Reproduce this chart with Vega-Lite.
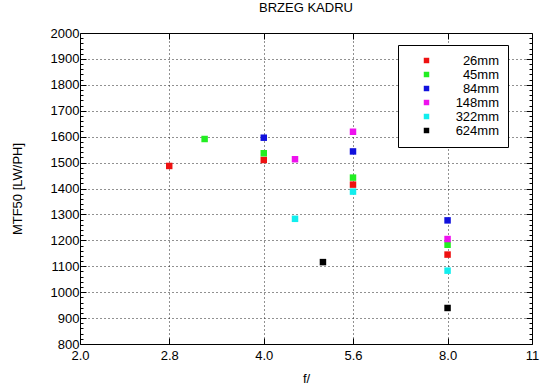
{
  "$schema": "https://vega.github.io/schema/vega-lite/v6.json",
  "width": 452,
  "height": 311,
  "autosize": "none",
  "padding": {"left": 80, "top": 33, "right": 18, "bottom": 45},
  "background": "white",
  "config": {
    "font": "Liberation Sans",
    "view": {"stroke": "#000000", "strokeWidth": 1},
    "axis": {"labelFont": "Liberation Sans", "titleFont": "Liberation Sans", "labelFontSize": 13, "titleFontSize": 13, "titleFontWeight": "normal", "labelColor": "#000", "titleColor": "#000", "domainColor": "#000", "tickColor": "#000"}
  },
  "title": {"text": "BRZEG KADRU", "fontSize": 13, "fontWeight": "normal", "font": "Liberation Sans", "offset": 12, "color": "#000"},
  "data": {"values": [
    {"f": 2.8, "mtf": 1487, "lens": "26mm"},
    {"f": 4.0, "mtf": 1510, "lens": "26mm"},
    {"f": 5.6, "mtf": 1415, "lens": "26mm"},
    {"f": 8.0, "mtf": 1145, "lens": "26mm"},
    {"f": 3.2, "mtf": 1591, "lens": "45mm"},
    {"f": 4.0, "mtf": 1536, "lens": "45mm"},
    {"f": 5.6, "mtf": 1442, "lens": "45mm"},
    {"f": 8.0, "mtf": 1183, "lens": "45mm"},
    {"f": 4.0, "mtf": 1596, "lens": "84mm"},
    {"f": 5.6, "mtf": 1543, "lens": "84mm"},
    {"f": 8.0, "mtf": 1277, "lens": "84mm"},
    {"f": 4.5, "mtf": 1513, "lens": "148mm"},
    {"f": 5.6, "mtf": 1619, "lens": "148mm"},
    {"f": 8.0, "mtf": 1205, "lens": "148mm"},
    {"f": 4.5, "mtf": 1283, "lens": "322mm"},
    {"f": 5.6, "mtf": 1388, "lens": "322mm"},
    {"f": 8.0, "mtf": 1083, "lens": "322mm"},
    {"f": 5.0, "mtf": 1116, "lens": "624mm"},
    {"f": 8.0, "mtf": 939, "lens": "624mm"}
  ]},
  "resolve": {"axis": {"x": "independent", "y": "independent"}},
  "layer": [
    {
      "mark": {"type": "square", "size": 42, "opacity": 1},
      "encoding": {
        "x": {"field": "f", "type": "quantitative",
          "scale": {"type": "log", "domain": [2, 11], "nice": false, "zero": false},
          "axis": {"orient": "bottom", "title": "f/", "values": [2, 2.8, 4, 5.6, 8, 11],
            "labelExpr": "datum.value == 11 ? '11' : format(datum.value, '.1f')",
            "grid": true, "gridDash": [1, 3], "gridColor": "#222", "gridOpacity": {"condition": {"test": "datum.value == 2 || datum.value == 11", "value": 0}, "value": 1},
            "tickSize": -6, "labelPadding": 11, "titlePadding": 10, "domain": false, "labelFlush": false}},
        "y": {"field": "mtf", "type": "quantitative",
          "scale": {"domain": [800, 2000], "nice": false, "zero": false},
          "axis": {"orient": "left", "title": "MTF50 [LW/PH]",
            "values": [800,820,840,860,880,900,920,940,960,980,1000,1020,1040,1060,1080,1100,1120,1140,1160,1180,1200,1220,1240,1260,1280,1300,1320,1340,1360,1380,1400,1420,1440,1460,1480,1500,1520,1540,1560,1580,1600,1620,1640,1660,1680,1700,1720,1740,1760,1780,1800,1820,1840,1860,1880,1900,1920,1940,1960,1980,2000],
            "labelExpr": "datum.value % 100 === 0 ? datum.value : ''",
            "grid": true, "gridDash": [1, 3], "gridColor": "#222",
            "gridOpacity": {"condition": {"test": "datum.value % 100 === 0 && datum.value != 800 && datum.value != 2000", "value": 1}, "value": 0},
            "tickSize": {"condition": {"test": "datum.value % 100 === 0", "value": -6}, "value": -3},
            "labelPadding": 7, "titlePadding": 26, "domain": false, "labelFlush": false, "labelOverlap": false}},
        "color": {"field": "lens", "type": "nominal",
          "scale": {"domain": ["26mm", "45mm", "84mm", "148mm", "322mm", "624mm"],
            "range": ["#ee1111", "#22ee22", "#1111dd", "#ee11ee", "#11eeee", "#000000"]},
          "legend": {"title": null, "orient": "none", "legendX": 318, "legendY": 12,
            "strokeColor": "#000", "fillColor": "#fff", "padding": 9,
            "symbolType": "square", "symbolSize": 30, "symbolStrokeWidth": 0, "symbolOpacity": 1,
            "symbolOffset": 13,
            "labelFontSize": 13, "labelFont": "Liberation Sans", "labelColor": "#000",
            "labelAlign": "right", "labelOffset": 66, "rowPadding": 0}}
      }
    },
    {
      "mark": {"type": "point", "opacity": 0},
      "encoding": {
        "x": {"field": "f", "type": "quantitative",
          "axis": {"orient": "top", "title": null, "labels": false, "values": [2.8, 4, 5.6, 8], "tickSize": -6, "domain": false, "grid": false}},
        "y": {"field": "mtf", "type": "quantitative",
          "axis": {"orient": "right", "title": null, "labels": false, "domain": false, "grid": false,
            "values": [800,820,840,860,880,900,920,940,960,980,1000,1020,1040,1060,1080,1100,1120,1140,1160,1180,1200,1220,1240,1260,1280,1300,1320,1340,1360,1380,1400,1420,1440,1460,1480,1500,1520,1540,1560,1580,1600,1620,1640,1660,1680,1700,1720,1740,1760,1780,1800,1820,1840,1860,1880,1900,1920,1940,1960,1980,2000],
            "tickSize": {"condition": {"test": "datum.value % 100 === 0", "value": -6}, "value": -3}}}
      }
    }
  ]
}
